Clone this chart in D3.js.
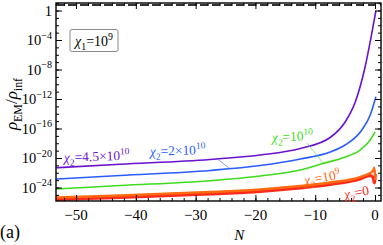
<!DOCTYPE html>
<html>
<head>
<meta charset="utf-8">
<script src="https://cdn.jsdelivr.net/npm/d3@7"></script>
<style>
body{margin:0;background:#fff}
svg{display:block}
text{font-family:"Liberation Serif","DejaVu Serif",serif;fill:#000}
</style>
</head>
<body>
<svg id="chart" width="383" height="245"></svg>
<script>
// curves: [N, log10(rho_EM/rho_inf)]
var purplePts = [[-53.3,-21.32],[-42.6,-20.85],[-27.6,-20.2],[-19.2,-19.59],[-12.5,-18.71],[-7.5,-17.22],[-5,-15.12],[-3.3,-12.41],[-1.7,-7.8],[-0.5,-2.92],[0.15,-0.03]];
var bluePts   = [[-53.3,-22.85],[-42.6,-22.37],[-27.6,-21.69],[-19.2,-21.02],[-12.5,-20.14],[-7.5,-19.19],[-5,-18.24],[-2.2,-16.2],[-0.8,-14.17],[0.15,-11.69]];
var greenPts  = [[-53.3,-24.2],[-42.6,-23.73],[-27.6,-23.08],[-19.2,-22.44],[-12.5,-21.63],[-8.7,-20.75],[-5,-19.86],[-2.5,-18.92],[-0.8,-17.56],[0,-16.47]];
var orangePts = [[-53.3,-25.36],[-42.6,-25.08],[-27.6,-24.61],[-19.2,-24.27],[-12.5,-23.8],[-7.5,-23.32],[-2.5,-22.58],[-0.8,-22.03],[-0.3,-21.7],[-0.1,-21.3],[0.05,-22.98]];
var redPts    = [[-53.3,-25.63],[-42.6,-25.36],[-27.6,-24.88],[-19.2,-24.54],[-12.5,-24.07],[-7.5,-23.59],[-2.5,-22.85],[-0.8,-22.37],[-0.3,-22.71],[-0.1,-23.39],[0.05,-22.17]];
var dashedLevel = 0.75;   // log10 of dashed reference line

var xMajor = [-50,-40,-30,-20,-10,0];
var xMinor = d3.range(-52, 1, 2);
var yMajorExp = [0,-4,-8,-12,-16,-20,-24];
var yMinorExp = d3.range(-25, 2, 1);

var svg = d3.select("#chart");
var L = 56, R = 381, T = 3, B = 201;

var x = d3.scaleLinear().domain([-53.35, 1.0]).range([L, R]);
var y = d3.scaleLog().domain([Math.pow(10,-25.83), Math.pow(10,1.017)]).range([B, T]);

// rich text: parts = [text, kind]  kind: "", "i", "sub", "sup"
function rich(sel, parts, size){
	var off = 0;
	parts.forEach(function(p){
		var target = p[1]=="sub" ? size*0.3 : (p[1]=="sup" ? -size*0.42 : 0);
		var ts = sel.append("tspan").text(p[0]).attr("dy", target - off);
		off = target;
		if(p[1]=="sub" || p[1]=="sup") ts.attr("font-size", size*0.7);
		if(p[1]=="i") ts.attr("font-style","italic");
	});
	return sel;
}

svg.append("clipPath").attr("id","clip")
	.append("rect").attr("x",L).attr("y",T).attr("width",R-L).attr("height",B-T);

var plot = svg.append("g").attr("clip-path","url(#clip)");

// dashed line
plot.append("line")
	.attr("x1",L).attr("x2",R)
	.attr("y1",y(Math.pow(10,dashedLevel))).attr("y2",y(Math.pow(10,dashedLevel)))
	.attr("stroke","#333").attr("stroke-width",2).attr("stroke-dasharray","8,4");

var line = d3.line()
	.x(function(d){ return x(d[0]); })
	.y(function(d){ return y(Math.pow(10,d[1])); })
	.curve(d3.curveMonotoneX);

var series = [
	{pts: redPts,    color:"#ff2a1a", w:3},
	{pts: orangePts, color:"#ff6a10", w:2.4},
	{pts: greenPts,  color:"#3fdc1e", w:1.6},
	{pts: bluePts,   color:"#2a5cff", w:1.6},
	{pts: purplePts, color:"#6a12d0", w:1.6}
];
series.forEach(function(s){
	plot.append("path").attr("d", line(s.pts))
		.attr("fill","none").attr("stroke",s.color).attr("stroke-width",s.w)
		.attr("stroke-linejoin","round");
});

// ticks
function ticks(axis, tr){
	var g = svg.append("g").attr("transform",tr).call(axis);
	g.select(".domain").remove();
	g.selectAll("text").remove();
	g.selectAll("line").attr("stroke","#000").attr("stroke-width",1);
}
var yMajorV = yMajorExp.map(function(e){ return Math.pow(10,e); });
var yMinorV = yMinorExp.map(function(e){ return Math.pow(10,e); });
ticks(d3.axisLeft(y).tickValues(yMinorV).tickSizeInner(-3).tickSizeOuter(0), "translate("+L+",0)");
ticks(d3.axisLeft(y).tickValues(yMajorV).tickSizeInner(-6).tickSizeOuter(0), "translate("+L+",0)");
ticks(d3.axisRight(y).tickValues(yMinorV).tickSizeInner(-3).tickSizeOuter(0), "translate("+R+",0)");
ticks(d3.axisRight(y).tickValues(yMajorV).tickSizeInner(-6).tickSizeOuter(0), "translate("+R+",0)");
ticks(d3.axisBottom(x).tickValues(xMinor).tickSizeInner(-3).tickSizeOuter(0), "translate(0,"+B+")");
ticks(d3.axisBottom(x).tickValues(xMajor).tickSizeInner(-6).tickSizeOuter(0), "translate(0,"+B+")");
ticks(d3.axisTop(x).tickValues(xMinor).tickSizeInner(-3).tickSizeOuter(0), "translate(0,"+T+")");
ticks(d3.axisTop(x).tickValues(xMajor).tickSizeInner(-6).tickSizeOuter(0), "translate(0,"+T+")");

// frame
svg.append("rect").attr("x",L).attr("y",T).attr("width",R-L).attr("height",B-T)
	.attr("fill","none").attr("stroke","#000").attr("stroke-width",1.4);

// x tick labels
xMajor.forEach(function(v){
	svg.append("text").attr("x",x(v)).attr("y",B+19).attr("text-anchor","middle")
		.attr("font-size",15).text(v<0 ? "\u2212"+(-v) : ""+v);
});
// y tick labels
yMajorExp.forEach(function(e){
	var t = svg.append("text").attr("x",52).attr("y",y(Math.pow(10,e))+5).attr("text-anchor","end").attr("font-size",14.5);
	if(e==0) t.text("1");
	else rich(t, [["10",""],["\u2212"+(-e),"sup"]], 14.5);
});

// axis titles
svg.append("text").attr("x",x(-22.7)).attr("y",240).attr("text-anchor","middle")
	.attr("font-size",15).attr("font-style","italic").text("N");
rich(svg.append("text").attr("transform","translate(17,104) rotate(-90)").attr("text-anchor","middle").attr("font-size",17),
	[["\u03c1","i"],["EM","sub"],["/",""],["\u03c1","i"],["inf","sub"]], 17);
svg.append("text").attr("x",0).attr("y",238).attr("font-size",18).text("(a)");

// legend box
svg.append("rect").attr("x",70).attr("y",29.5).attr("width",48).attr("height",22).attr("rx",2)
	.attr("fill","#fff").attr("stroke","#8a8a8a").attr("stroke-width",1);
rich(svg.append("text").attr("x",94).attr("y",45.5).attr("text-anchor","middle").attr("font-size",14),
	[["\u03c7","i"],["1","sub"],["=10",""],["9","sup"]], 14);

// curve labels
function curveLabel(px, py, rot, color, parts){
	var t = svg.append("text").attr("transform","translate("+px+","+py+") rotate("+rot+")")
		.attr("font-size",13.5).style("fill",color);
	rich(t, parts, 13.5);
}
curveLabel(64, 162, -2, "#6a12d0", [["\u03c7","i"],["2","sub"],["=4.5\u00d710",""],["10","sup"]]);
curveLabel(150, 156, -2, "#2a5cff", [["\u03c7","i"],["2","sub"],["=2\u00d710",""],["10","sup"]]);
curveLabel(272, 142, -3, "#3fdc1e", [["\u03c7","i"],["2","sub"],["=10",""],["10","sup"]]);
curveLabel(305, 185, -10, "#ff6a10", [["\u03c7","i"],["2","sub"],["=10",""],["9","sup"]]);
curveLabel(345, 199, -10, "#ff2a1a", [["\u03c7","i"],["2","sub"],["=0",""]]);

// leader lines
svg.append("line").attr("x1",216).attr("y1",158).attr("x2",229).attr("y2",168)
	.attr("stroke","#2a5cff").attr("stroke-width",0.6);
svg.append("line").attr("x1",307).attr("y1",143).attr("x2",323).attr("y2",163)
	.attr("stroke","#3fdc1e").attr("stroke-width",0.6);
</script>
</body>
</html>
